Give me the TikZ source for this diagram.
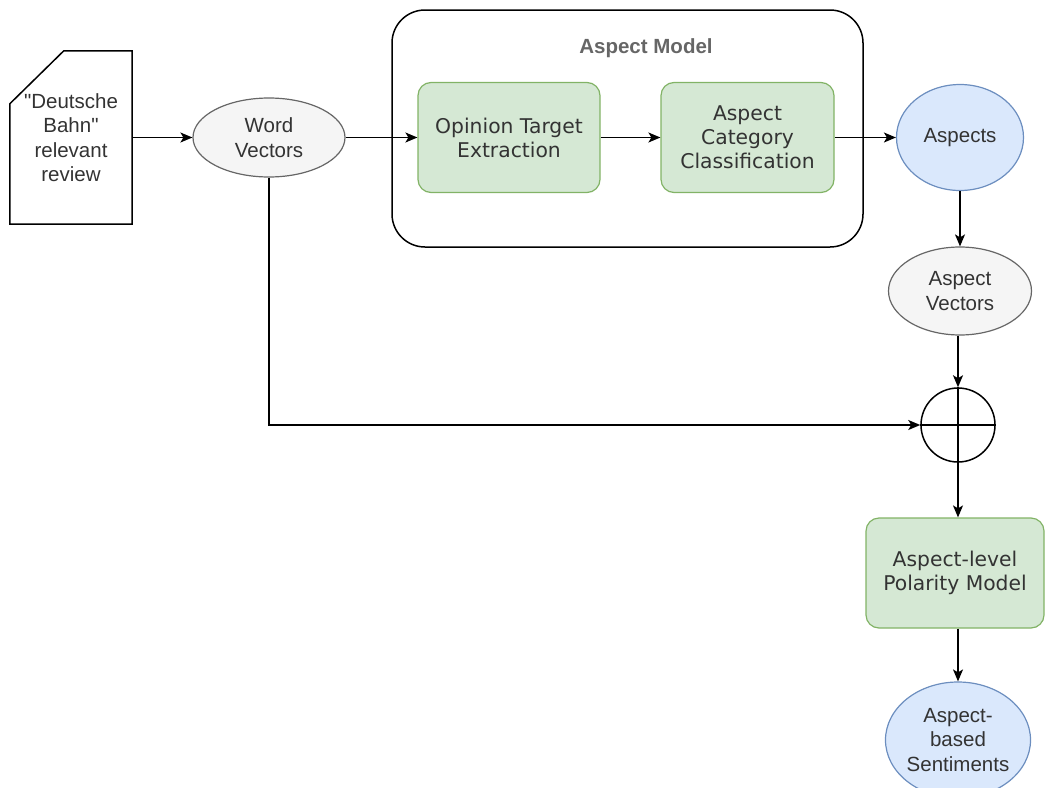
\documentclass[tikz,border=0pt]{standalone}
\usepackage{fontspec}
\setmainfont{Liberation Sans}[Ligatures=TeXOff]
\newfontfamily\dvsans{DejaVu Sans}
\usetikzlibrary{arrows.meta,shapes.geometric}

\definecolor{greenfill}{HTML}{D5E8D4}
\definecolor{greenline}{HTML}{82B366}
\definecolor{bluefill}{HTML}{DAE8FC}
\definecolor{blueline}{HTML}{6C8EBF}
\definecolor{grayfill}{HTML}{F5F5F5}
\definecolor{grayline}{HTML}{666666}
\definecolor{textgray}{HTML}{333333}

\tikzset{
  lbl/.style={font=\fontsize{20.5}{24.5}\selectfont, text=textgray, align=center, inner sep=0pt},
  greenbox/.style={draw=greenline, fill=greenfill, rounded corners=13pt, line width=1.2pt,
    font=\dvsans\fontsize{20.3}{24}\selectfont, text=textgray, align=center, inner sep=0pt},
  grayell/.style={ellipse, draw=grayline, fill=grayfill, line width=1.2pt, lbl},
  blueell/.style={ellipse, draw=blueline, fill=bluefill, line width=1.2pt, lbl},
  flow/.style={line width=1.5pt, -{Stealth[length=12pt,width=10pt,inset=3pt]}},
  plain/.style={line width=1.5pt},
}

\begin{document}
\begin{tikzpicture}[x=1pt,y=-1pt]
  \useasboundingbox (0,0) rectangle (1046,787);

  % input document with a cut corner
  \node[lbl, minimum width=122pt, minimum height=173pt] (doc) at (71,137.5)
    {"Deutsche\\Bahn"\\relevant\\review};
  \draw[plain] (doc.south west) -- (doc.south east) -- (doc.north east)
    -- ([xshift=54pt]doc.north west) -- ([yshift=-53pt]doc.north west) -- cycle;

  \node[grayell, minimum width=152pt, minimum height=79pt] (wv) at (269,137.5) {Word\\Vectors};

  % aspect model container
  \node[draw, line width=1.5pt, rounded corners=33pt, minimum width=471pt, minimum height=237pt]
    (am) at (627.5,128.5) {};
  \node[font=\bfseries\fontsize{20.5}{24}\selectfont, text=grayline, inner sep=0pt]
    (amtitle) at (646,48) {Aspect Model};

  \node[greenbox, minimum width=182pt, minimum height=110pt] (ote) at (509,137.5)
    {Opinion Target\\Extraction};
  \node[greenbox, minimum width=173pt, minimum height=110pt] (acc) at (747.5,137.5)
    {Aspect\\Category\\Classification};

  \node[blueell, minimum width=127pt, minimum height=106pt] (asp) at (960,137.5) {Aspects};
  \node[grayell, minimum width=143pt, minimum height=88pt] (av) at (960,291) {Aspect\\Vectors};

  % combination node
  \node[circle, draw, line width=1.5pt, minimum size=74pt, inner sep=0pt] (plus) at (958,425) {};
  \draw[plain] (plus.north) -- (plus.south);
  \draw[plain] (plus.west) -- (plus.east);

  \node[greenbox, minimum width=178pt, minimum height=110pt] (pol) at (955,573)
    {Aspect-level\\Polarity Model};

  \node[blueell, minimum width=134pt, minimum height=116pt] (sent) at (958,740)
    {Aspect-\\based\\Sentiments};

  % connectors
  \draw[flow] (doc.east) -- (wv.west);
  \draw[flow] (wv.east) -- (ote.west);
  \draw[flow] (ote.east) -- (acc.west);
  \draw[flow] (acc.east) -- (asp.west);
  \draw[flow] (asp.south) -- (av.north);
  \draw[flow] (av.south -| plus.north) -- (plus.north);
  \draw[flow] (wv.south) |- (plus.west);
  \draw[flow] (plus.south) -- (plus.south |- pol.north);
  \draw[flow] (pol.south -| sent.north) -- (sent.north);
\end{tikzpicture}
\end{document}
